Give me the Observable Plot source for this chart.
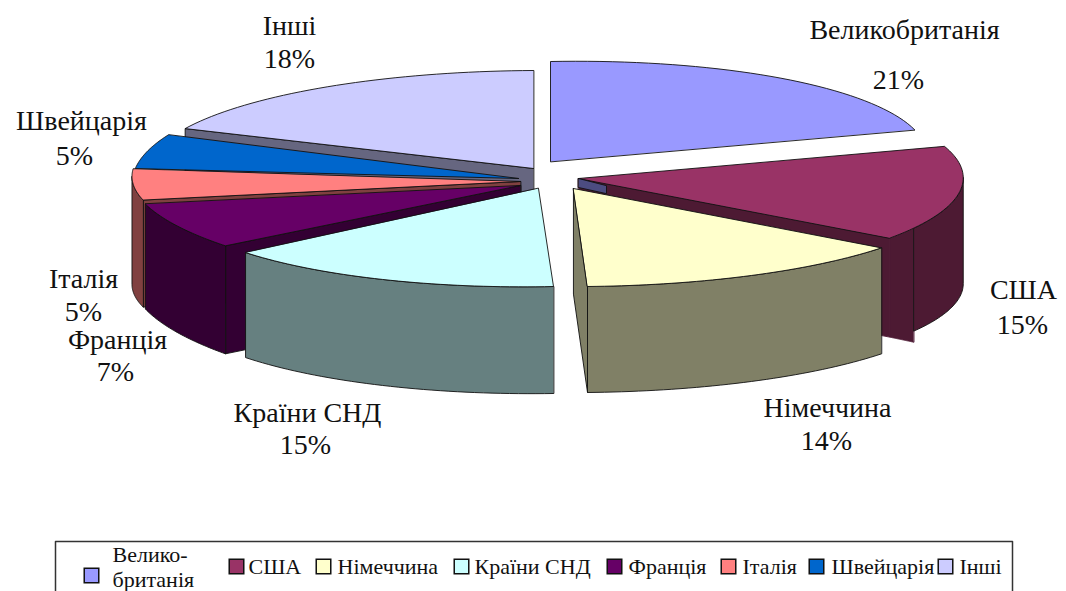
<!DOCTYPE html>
<html><head><meta charset="utf-8">
<script src="https://cdn.jsdelivr.net/npm/d3@7"></script>
<script src="https://cdn.jsdelivr.net/npm/@observablehq/plot@0.6"></script>
<style>html,body{margin:0;padding:0;background:#fff;overflow:hidden}svg{display:block}</style>
</head><body><div id="chart"></div>
<script>
// data
const names = ["Великобританія","США","Німеччина","Країни СНД","Франція","Італія","Швейцарія","Інші"];
const shares = [21,15,14,15,7,5,5,18];
const topColors = ["#9999FF","#993366","#FFFFCC","#CCFFFF","#660066","#FF8080","#0066CC","#CCCCFF"];
const sideColors = ["#4C4C80","#4D1A33","#808066","#668080","#330033","#804040","#003366","#666680"];

// layout: projected ellipse of each exploded slice
const centreX = [550,578,573,538,520,520,518,533];
const centreY = [161,178,188,188,185,181,178,168];
const radiusX = [376,384,388,373,388,388,386,385];
const radiusY = [100,102,98,98,104,99,111,98];
const skewX = [0,-24,-14,-15,-32,-20,-2,0];
const skewY = [-7,-7,-4,-8,1,0,-4,-2];
// layout: labels
const labelX = [904,1023,827,307,117,83,81,289];
const labelY = [30,290,408,413,340,279,121,26];
const pctX = [898,1022,826,305,115,83,74,289];
const pctY = [80,325,441,445,372,312,156,59];
// layout: legend
const swatchX = [91,236,323,461,614,728,816,945];
const swatchY = [575,566,566,566,566,566,566,566];
const legendTextX = [112,248,337,474,628,742,831,959];
const legendX = [55,55,1012,1012];
const legendY = [591,541,541,591];

const rad = Math.PI/180;
const arcs = d3.pie().sort(null).value(d=>d).startAngle(0).endAngle(2*Math.PI)(shares);
const rim = (i,deg) => {
  const s=Math.sin(deg*rad), c=Math.cos(deg*rad);
  return [centreX[i]+radiusX[i]*s+skewX[i]*c, centreY[i]+skewY[i]*s-radiusY[i]*c];
};
const span = (a,b,n=40) => d3.range(n+1).map(k=>a+(b-a)*k/n);
const startDeg = i => arcs[i].startAngle/rad, endDeg = i => arcs[i].endAngle/rad;
const topFace = i => [[centreX[i],centreY[i]], ...span(startDeg(i),endDeg(i)).map(t=>rim(i,t))];
const wall = (i,a,b,h0,h1) => {
  const t = span(a,b), top = t.map(d=>rim(i,d));
  const bot = top.map((p,k)=>[p[0],p[1]+h0+(h1-h0)*k/(t.length-1)]);
  return [...top,...bot.reverse()];
};
const radial = (i,deg,h) => {
  const e = rim(i,deg), c=[centreX[i],centreY[i]];
  return [c,e,[e[0],e[1]+h],[c[0],c[1]+h]];
};
const poly = (pts,fill,stroke="#111") => Plot.line(pts,{x:d=>d[0],y:d=>d[1],fill,stroke,strokeWidth:0.9,curve:"linear-closed"});

const U=0,A=1,G=2,C=3,F=4,I=5,S=6,O=7;
const usaFrag = (()=>{ // UK-coloured sliver at the tip of the USA slice
  const c=[centreX[A],centreY[A]], e=rim(A,endDeg(A));
  const p=[c[0]+(e[0]-c[0])*0.09,c[1]+(e[1]-c[1])*0.12];
  return [c,p,[p[0],p[1]+8],[c[0],c[1]+9]];
})();
const pieMarks = [
  poly(radial(O,startDeg(O),106),sideColors[O]),
  poly(topFace(O),topColors[O]),
  poly(topFace(U),topColors[U]),
  poly(topFace(S),topColors[S]),
  poly(radial(I,startDeg(I),107),sideColors[I]),
  poly(wall(I,startDeg(I),273,107,108),sideColors[I]),
  poly(topFace(I),topColors[I]),
  poly(radial(F,startDeg(F),108),sideColors[F]),
  poly(wall(F,startDeg(F),endDeg(F),108,105),sideColors[F]),
  poly(topFace(F),topColors[F]),
  poly(radial(A,endDeg(A),99),sideColors[A],sideColors[A]),
  poly(wall(A,123,endDeg(A),114,99),sideColors[A],sideColors[A]),
  poly(wall(A,93.5,123,106,103),sideColors[A]),
  poly(topFace(A),topColors[A]),
  poly(usaFrag,sideColors[U]),
  poly(radial(G,endDeg(G),106),sideColors[G]),
  poly(wall(G,startDeg(G),endDeg(G),106,106),sideColors[G]),
  poly(topFace(G),topColors[G]),
  poly(wall(C,startDeg(C),endDeg(C),107,105),sideColors[C]),
  poly(topFace(C),topColors[C]),
];

const idx = d3.range(names.length);
const font = "'Liberation Serif','Times New Roman',serif";
const legendNames = names.map((n,i)=> i===0 ? "Велико-\nбританія" : n);

const plot = Plot.plot({
  width:1066, height:591, margin:0,
  x:{domain:[0,1066],range:[0,1066],axis:null},
  y:{domain:[0,591],range:[0,591],axis:null},
  style:{background:"#fff",fontFamily:font},
  marks:[
    ...pieMarks,
    Plot.text(idx,{x:i=>labelX[i],y:i=>labelY[i],text:i=>names[i],fontSize:28,fill:"#111",textAnchor:"middle"}),
    Plot.text(idx,{x:i=>pctX[i],y:i=>pctY[i],text:i=>shares[i]+"%",fontSize:28,fill:"#111",textAnchor:"middle"}),
    Plot.line(legendX.map((x,i)=>[x,legendY[i]]),{x:d=>d[0],y:d=>d[1],stroke:"#333",strokeWidth:1.5}),
    Plot.dot(idx,{x:i=>swatchX[i],y:i=>swatchY[i],symbol:"square",r:8.2,fill:i=>topColors[i],stroke:"#111",strokeWidth:1.5}),
    Plot.text(idx.slice(1),{x:i=>legendTextX[i],y:i=>swatchY[i],text:i=>legendNames[i],fontSize:22,fill:"#111",textAnchor:"start"}),
    Plot.text([0],{x:i=>legendTextX[i],y:()=>566,text:i=>legendNames[i],fontSize:22,lineHeight:1.14,fill:"#111",textAnchor:"start"}),
  ]
});
document.getElementById("chart").append(plot);
</script></body></html>
